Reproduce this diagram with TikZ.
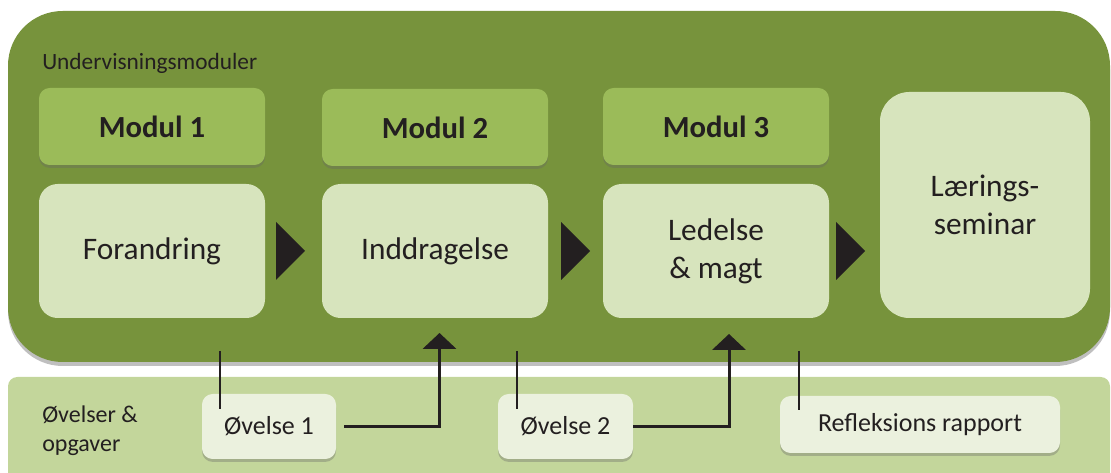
\documentclass[tikz,border=0pt]{standalone}
\usepackage{fontspec}
\setmainfont{Carlito}
\usetikzlibrary{shadows,arrows.meta}
\definecolor{dkgreen}{HTML}{77933C}
\definecolor{modgreen}{HTML}{9BBB59}
\definecolor{boxgreen}{HTML}{D7E4BD}
\definecolor{bandgreen}{HTML}{C3D69B}
\definecolor{exgreen}{HTML}{EBF1DE}
\definecolor{ink}{HTML}{231F20}
\begin{document}
\begin{tikzpicture}[x=0.75pt,y=-0.75pt,
  modbox/.style={fill=modgreen, rounded corners=8pt, minimum width=169.5pt, minimum height=57.75pt,
    inner sep=0pt, text=ink, font=\fontsize{23}{27}\selectfont\bfseries,
    drop shadow={shadow xshift=0pt, shadow yshift=-2.2pt, opacity=0.35, fill=black!60}},
  contbox/.style={fill=boxgreen, rounded corners=14pt, minimum width=169.5pt, minimum height=100.5pt,
    inner sep=0pt, text=ink, align=center, font=\fontsize{23.5}{28.5}\selectfont},
  exbox/.style={fill=exgreen, rounded corners=8pt, inner sep=0pt, text=ink,
    font=\fontsize{19.5}{23}\selectfont,
    drop shadow={shadow xshift=0pt, shadow yshift=-2.2pt, opacity=0.35, fill=black!60}},
  label/.style={inner sep=0pt, text=ink},
  tick/.style={draw=ink, line width=1.5pt},
  conn/.style={draw=ink, line width=2.25pt, -{Triangle[width=25pt,length=12pt]}},
  tri/.style={fill=ink}
]
\useasboundingbox (0,0) rectangle (1111,473);
% bottom band
\fill[bandgreen, rounded corners=7pt] (8,377) rectangle (1110,500);
% main panel
\path[fill=dkgreen, rounded corners=41pt,
  drop shadow={shadow xshift=0pt, shadow yshift=-3pt, opacity=0.25, fill=black}]
  (8,11) rectangle (1110,362);
\node[label, anchor=base west, font=\fontsize{17.5}{20}\selectfont] (title) at (42,70) {Undervisningsmoduler};
% modules
\node[modbox] (m1) at (152,126.5) {Modul 1};
\node[modbox] (m2) at (435,127.5) {Modul 2};
\node[modbox] (m3) at (716,126.5) {Modul 3};
% contents
\node[contbox] (c1) at (152,251) {Forandring};
\node[contbox] (c2) at (435,251) {Inddragelse};
\node[contbox] (c3) at (716,251) {Ledelse\\\& magt};
\node[contbox, rounded corners=22pt, minimum width=157.5pt, minimum height=169.5pt] (c4) at (985,205) {Lærings-\\seminar};
% triangles
\fill[tri] (276,222) -- (305,251) -- (276,280) -- cycle;
\fill[tri] (561,222) -- (590,251) -- (561,280) -- cycle;
\fill[tri] (836,222) -- (865,251) -- (836,280) -- cycle;
% band label
\node[label, anchor=base west, align=left, font=\fontsize{18}{21.75}\selectfont] (blabel) at (42,452) {Øvelser \&\\opgaver};
% exercises
\node[exbox, minimum width=100.5pt, minimum height=48.75pt] (e1) at (269,426.5) {Øvelse 1};
\node[exbox, minimum width=101.25pt, minimum height=48.75pt] (e2) at (565.5,426.5) {Øvelse 2};
\node[exbox, minimum width=210pt, minimum height=42.75pt] (e3) at (920,424.5) {Refleksions rapport};
% ticks
\coordinate (t1a) at (220,351); \coordinate (t1b) at (220,409);
\coordinate (t2a) at (517,351); \coordinate (t2b) at (517,409);
\coordinate (t3a) at (799,351); \coordinate (t3b) at (799,410);
\draw[tick] (t1a) -- (t1b);
\draw[tick] (t2a) -- (t2b);
\draw[tick] (t3a) -- (t3b);
% connectors
\coordinate (tip1) at (439.5,333);
\coordinate (tip2) at (729,334);
\draw[conn] ([xshift=6pt]e1.east) -| (tip1);
\draw[conn] (e2.east) -| (tip2);
\end{tikzpicture}
\end{document}
